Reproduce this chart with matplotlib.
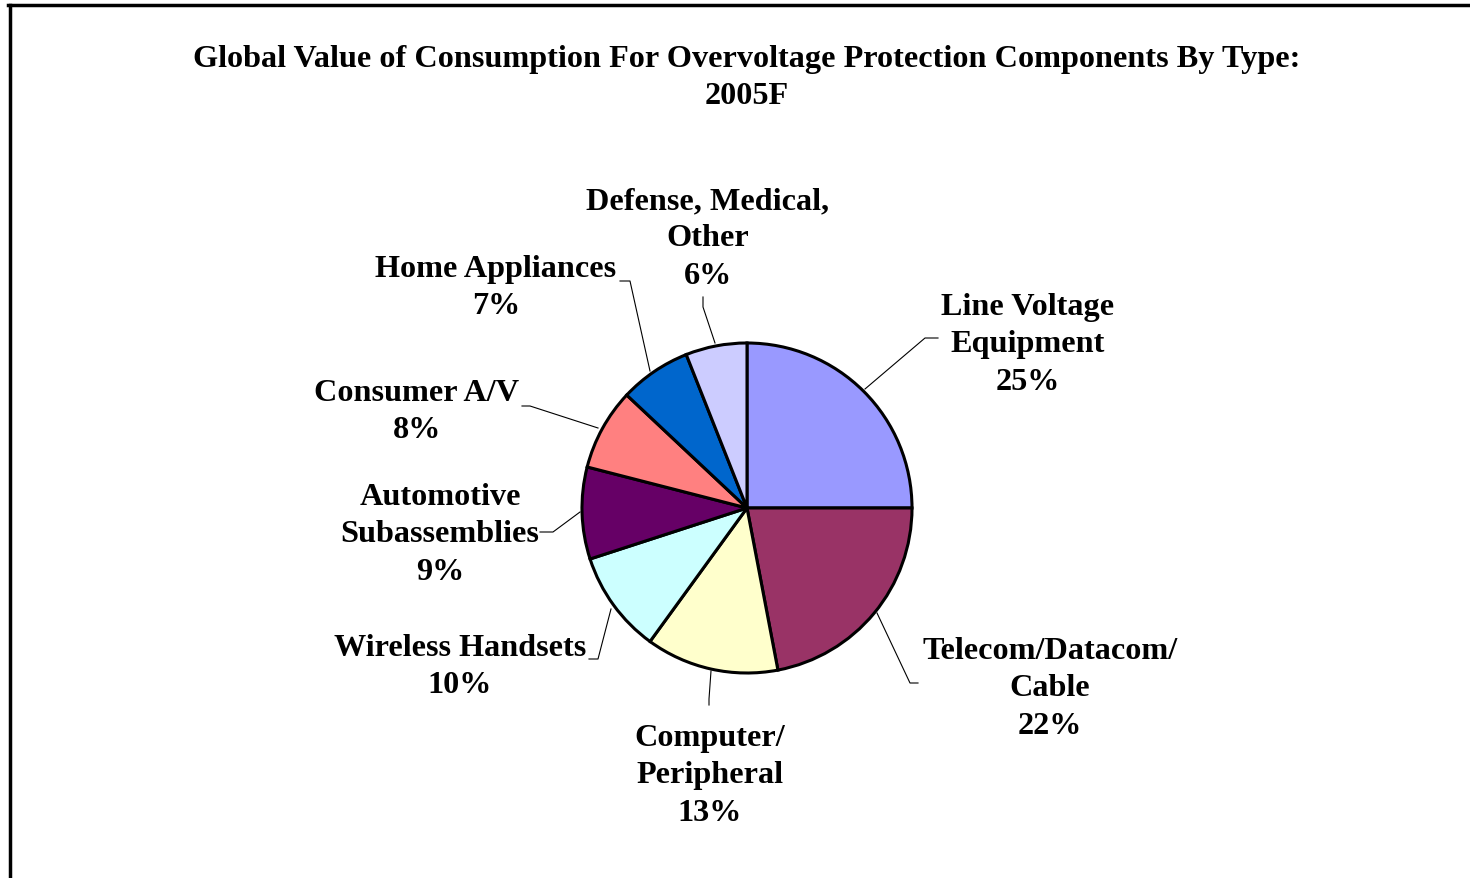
import matplotlib
matplotlib.use("Agg")
import matplotlib.pyplot as plt

# slice data, clockwise from 12 o'clock
labels = ["Line Voltage\nEquipment", "Telecom/Datacom/\nCable", "Computer/\nPeripheral",
          "Wireless Handsets", "Automotive\nSubassemblies", "Consumer A/V",
          "Home Appliances", "Defense, Medical,\nOther"]
shares = [25, 22, 13, 10, 9, 8, 7, 6]
colors = ["#9999FF", "#993366", "#FFFFCC", "#CCFFFF", "#660066", "#FF8080", "#0066CC", "#CCCCFF"]

W, H = 1470, 879
cx, cy, R = 747, 509, 165

def px(x, y):
    # pixel position -> pie units
    return (x - cx) / R, (cy - y) / R

# label centres and leader lines (pixels)
label_pos = [(1028, 345), (1050, 689), (710, 776), (460, 667), (440, 535),
             (417, 412), (496, 288), (708, 239)]
leaders = [
    [(865, 390), (925, 339), (938, 339)],
    [(877, 614), (910, 684), (918, 684)],
    [(711, 672), (709, 700), (709, 706)],
    [(611, 610), (598, 660), (589, 660)],
    [(580, 513), (553, 533), (540, 533)],
    [(598, 429), (530, 407), (522, 407)],
    [(650, 372), (630, 282), (620, 282)],
    [(715, 344), (703, 308), (703, 298)],
]

FS = 23.2
LS = 1.37

plt.rcParams['font.family'] = ['Liberation Serif', 'DejaVu Serif']
fig = plt.figure(figsize=(W / 100, H / 100), dpi=100)
ax = fig.add_axes([0, 0, 1, 1])
ax.axis('off')

ax.pie(shares, colors=colors, startangle=90, counterclock=False, radius=1,
       wedgeprops=dict(edgecolor='black', linewidth=2.2))
ax.set_xlim(-cx / R, (W - cx) / R)
ax.set_ylim((cy - H) / R, cy / R)
ax.set_aspect('equal')

for lab, s, (lx, ly), pts in zip(labels, shares, label_pos, leaders):
    x, y = px(lx, ly)
    ax.text(x, y, f"{lab}\n{s}%", ha='center', va='center', fontsize=FS,
            fontweight='bold', linespacing=LS)
    xs, ys = zip(*[px(a, b) for a, b in pts])
    ax.plot(xs, ys, color='black', linewidth=0.8)

fig.text(747 / W, 1 - 78 / H,
         "Global Value of Consumption For Overvoltage Protection Components By Type:\n2005F",
         ha='center', va='center', fontsize=FS, fontweight='bold', linespacing=LS)

# chart border (extends past the right and bottom edges)
fig.add_artist(plt.Line2D([9.5 / W, 9.5 / W], [0, 1 - 5.5 / H], color='black', linewidth=2.5,
                          transform=fig.transFigure))
fig.add_artist(plt.Line2D([8 / W, 1], [1 - 5.5 / H, 1 - 5.5 / H], color='black', linewidth=2.5,
                          transform=fig.transFigure))

fig.savefig("out.png", dpi=100)
